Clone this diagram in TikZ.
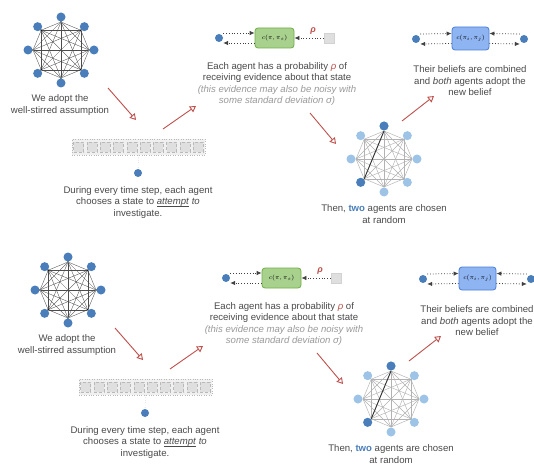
\documentclass[tikz,border=0pt]{standalone}
\usepackage{fontspec}
\setmainfont{Liberation Sans}
\usetikzlibrary{arrows.meta,calc}
\definecolor{agent}{HTML}{4A7EBB}
\definecolor{agentlight}{HTML}{9DC3E6}
\definecolor{arrowred}{HTML}{C0504D}
\definecolor{txt}{HTML}{4A4A4A}
\definecolor{txtlight}{HTML}{9A9A9A}
\definecolor{greenfill}{HTML}{A9D18E}
\definecolor{greenline}{HTML}{70AD47}
\definecolor{bluefill}{HTML}{8EB4F2}
\definecolor{blueline}{HTML}{4A7FD6}
\newcommand\ulitalic[1]{\setbox0\hbox{\textit{#1}}\rlap{\rule[-1.6pt]{\wd0}{0.45pt}}\box0\relax}
\tikzset{
  agentdot/.style={circle, fill=agent, inner sep=0pt, minimum size=9pt},
  lightdot/.style={circle, fill=agentlight, inner sep=0pt, minimum size=9pt},
  vert/.style={circle, fill=black, inner sep=0pt, minimum size=1.8pt},
  caption/.style={font=\fontsize{9.6}{11.5}\selectfont, text=txt, align=center, inner sep=0pt},
  flow/.style={draw=arrowred, line width=0.9pt, -{Triangle[open, length=6pt, width=7pt]}},
  dotflow/.style={dotted, line width=0.8pt, black!75, -{Latex[length=5pt,width=4.5pt]}},
  stripbox/.style={draw=gray!55, dotted, fill=gray!12, minimum width=133pt, minimum height=16pt, inner sep=0pt},
  statesq/.style={draw=gray!55, densely dashed, fill=gray!25, minimum size=10pt, inner sep=0pt},
  greysq/.style={fill=gray!25, draw=gray!35, minimum size=10pt, inner sep=0pt},
  greenbox/.style={draw=greenline, fill=greenfill, line width=0.8pt, rounded corners=3pt, minimum width=39pt, minimum height=20pt, inner sep=0pt, font=\fontsize{6.5}{7}\selectfont},
  bluebox/.style={draw=blueline, fill=bluefill, line width=0.8pt, rounded corners=3pt, minimum width=37pt, minimum height=23pt, inner sep=0pt, font=\fontsize{6.5}{7}\selectfont},
}
\newcommand\panelpic{%
  % graph 1: well-stirred complete graph
  \foreach \i in {0,...,7}{
    \node[vert] (p\i) at ({61+28*cos(45*\i)},{50-28*sin(45*\i)}) {};
  }
  \foreach \i in {0,...,6}{
    \pgfmathtruncatemacro\s{\i+1}
    \foreach \j in {\s,...,7}{\draw[black!70, line width=0.35pt] (p\i) -- (p\j);}
  }
  \foreach \i in {0,...,7}{
    \node[agentdot] (q\i) at ({61+33*cos(45*\i)},{50-33*sin(45*\i)}) {};
  }
  \node[caption] (t1) at (60,105) {We adopt the\\well-stirred assumption};
  \coordinate (a1s) at (108,88); \coordinate (a1e) at (136,120);
  \draw[flow] (a1s) -- (a1e);
  % strip of states
  \node[stripbox] (strip) at (138.5,147) {};
  \foreach \k in {0,...,9}{\node[statesq] (s\k) at ({78.5+13.3*\k},147) {};}
  \node[agentdot, minimum size=8pt] (ag) at (138,173) {};
  \draw[dotted, gray!70] (strip.south) -- (ag);
  \node[caption] (t2) at (138,202.5) {During every time step, each agent\\chooses a state to \ulitalic{attempt} \textit{to}\\investigate.};
  \coordinate (a2s) at (163,129); \coordinate (a2e) at (196,106);
  \draw[flow] (a2s) -- (a2e);
  % evidence
  \node[agentdot, minimum size=8pt] (ed) at (219,38) {};
  \node[greenbox] (gb) at (274.5,38) {$c(\pi,\pi_s)$};
  \node[greysq] (gs) at (329,38) {};
  \node[text=arrowred, font=\fontsize{9}{9}\selectfont\bfseries\itshape, inner sep=0pt] (rho) at (313,31) {ρ};
  \draw[dotflow] ([yshift=5pt]ed.east) -- ([yshift=5pt]gb.west);
  \draw[dotflow] ([yshift=-5pt]gb.west) -- ([yshift=-5pt]ed.east);
  \draw[dotflow] (gs.west) -- (gb.east);
  \node[caption] (t3) at (277,84) {Each agent has a probability \textcolor{arrowred}{\textit{ρ}} of\\receiving evidence about that state\\\textcolor{txtlight}{\textit{(this evidence may also be noisy with}}\\\textcolor{txtlight}{\textit{some standard deviation σ)}}};
  \coordinate (a3s) at (310,113); \coordinate (a3e) at (336,144);
  \draw[flow] (a3s) -- (a3e);
  % graph 2: two agents chosen
  \foreach \i in {0,...,7}{
    \coordinate (u\i) at ({384+28*cos(45*\i)},{159-28*sin(45*\i)});
  }
  \foreach \i in {0,...,6}{
    \pgfmathtruncatemacro\s{\i+1}
    \foreach \j in {\s,...,7}{\draw[gray!60, line width=0.45pt] (u\i) -- (u\j);}
  }
  \draw[black!80, line width=0.9pt] (u2) -- (u5);
  \foreach \i in {0,...,7}{
    \node[lightdot] (w\i) at ({384+33*cos(45*\i)},{159-33*sin(45*\i)}) {};
  }
  \node[agentdot] (w2) at ({384+33*cos(90)},{159-33*sin(90)}) {};
  \node[agentdot] (w5) at ({384+33*cos(225)},{159-33*sin(225)}) {};
  \node[caption] (t4) at (384,214) {Then, \textcolor{agent}{\textbf{two}} agents are chosen\\at random};
  \coordinate (a4s) at (402,121); \coordinate (a4e) at (434,96);
  \draw[flow] (a4s) -- (a4e);
  % combination
  \node[agentdot, minimum size=8pt] (cl) at (416,39) {};
  \node[bluebox] (bb) at (470.5,38.5) {$c(\pi_i,\pi_j)$};
  \node[agentdot, minimum size=8pt] (cr) at (524,39) {};
  \draw[dotflow] ([yshift=5pt]cl.east) -- ([yshift=5pt]bb.west);
  \draw[dotflow] ([yshift=-5pt]bb.west) -- ([yshift=-5pt]cl.east);
  \draw[dotflow] ([yshift=5pt]cr.west) -- ([yshift=5pt]bb.east);
  \draw[dotflow] ([yshift=-5pt]bb.east) -- ([yshift=-5pt]cr.west);
  \node[caption] (t5) at (470,81) {Their beliefs are combined\\and \textit{both} agents adopt the\\new belief};
}
\begin{document}
\begin{tikzpicture}[x=1pt, y=-1pt]
  \fill[white] (0,0) rectangle (534,473);
  \useasboundingbox (0,0) rectangle (534,473);
  \begin{scope}[name prefix=top-]
    \panelpic
  \end{scope}
  \begin{scope}[shift={(7,240)}, name prefix=bot-]
    \panelpic
  \end{scope}
\end{tikzpicture}
\end{document}
